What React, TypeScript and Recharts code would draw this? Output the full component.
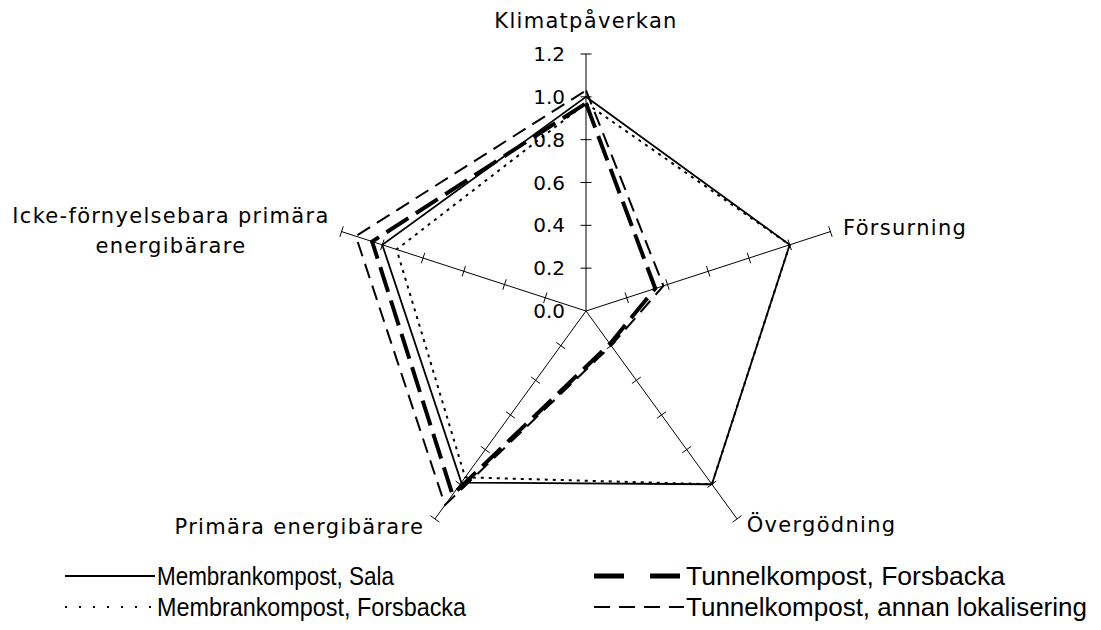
import React from 'react';
import { RadarChart, Radar, PolarAngleAxis, PolarRadiusAxis, Legend } from 'recharts';

// ---- data ----
const axisLabels = [
  'Klimatpåverkan',
  'Försurning',
  'Övergödning',
  'Primära energibärare',
  'Icke-förnyelsebara primära energibärare',
];
const salaValues = [1.0, 1.0, 1.0, 0.99, 1.0];
const membranForsbackaValues = [0.97, 1.0, 1.0, 0.96, 0.93];
const tunnelForsbackaValues = [0.97, 0.34, 0.19, 1.06, 1.05];
const tunnelAnnanValues = [1.03, 0.38, 0.2, 1.12, 1.13];
const radiusDomain = [0, 1.2];
const radiusTickCount = 7;
const seriesNames = [
  'Membrankompost, Sala',
  'Membrankompost, Forsbacka',
  'Tunnelkompost, Forsbacka',
  'Tunnelkompost, annan lokalisering',
];
const seriesKeys = ['sala', 'membranForsbacka', 'tunnelForsbacka', 'tunnelAnnan'];

const data = axisLabels.map((axis, i) => ({
  axis,
  sala: salaValues[i],
  membranForsbacka: membranForsbackaValues[i],
  tunnelForsbacka: tunnelForsbackaValues[i],
  tunnelAnnan: tunnelAnnanValues[i],
}));

// ---- styles ----
const seriesStyles = [
  { stroke: '#000', strokeWidth: 1.8, strokeDasharray: undefined },
  { stroke: '#000', strokeWidth: 2, strokeDasharray: '3 5' },
  { stroke: '#000', strokeWidth: 4, strokeDasharray: '26 9' },
  { stroke: '#000', strokeWidth: 2, strokeDasharray: '15 8' },
];
const legendSampleStyles = [
  { strokeWidth: 2, strokeDasharray: undefined },
  { strokeWidth: 2, strokeDasharray: '2 12' },
  { strokeWidth: 5, strokeDasharray: '30 26' },
  { strokeWidth: 2, strokeDasharray: '16 9' },
];
const legendTextLengths = [237, 309, 319, 401];
const spokeAngles = [90, 18, -54, -126, -198];

const labelFont = "'DejaVu Sans', Verdana, sans-serif";
const legendFont = "'Liberation Sans', Arial, sans-serif";

const angleLabelLayout = [
  { dx: 0, dy: -25.5, anchor: 'middle' },
  { dx: 5, dy: -1, anchor: 'start' },
  { dx: 5, dy: 0, anchor: 'start' },
  { dx: -6, dy: 1.6, anchor: 'end' },
  { dx: -163, dy: 0, anchor: 'middle' },
];

const AngleTick = (props: any) => {
  const { x, y, payload, index } = props;
  const lay = angleLabelLayout[index] || { dx: 0, dy: 0, anchor: 'middle' };
  const common = {
    fontFamily: labelFont,
    fontSize: 21,
    letterSpacing: 1.3,
    fill: '#000',
    textAnchor: lay.anchor as any,
    dominantBaseline: 'central' as any,
  };
  const label: string = payload.value;
  if (index === 4) {
    return (
      <g>
        <text {...common} x={x + lay.dx} y={y - 13.6}>Icke-förnyelsebara primära</text>
        <text {...common} x={x + lay.dx} y={y + 17}>energibärare</text>
      </g>
    );
  }
  return (
    <text {...common} x={x + lay.dx} y={y + lay.dy}>
      {label}
    </text>
  );
};

const makeRadiusTick = (angle: number, showLabel: boolean) => (props: any) => {
  const { x, y, payload } = props;
  const rad = (angle * Math.PI) / 180;
  const px = Math.sin(rad) * 5.5;
  const py = Math.cos(rad) * 5.5;
  const v = Number(payload.value);
  return (
    <g>
      {v > 0 && (
        <line x1={x - px} y1={y - py} x2={x + px} y2={y + py} stroke="#000" strokeWidth={1} />
      )}
      {showLabel && (
        <text
          x={x - 21}
          y={y}
          textAnchor="end"
          dominantBaseline="central"
          fontFamily={labelFont}
          fontSize={20}
          fill="#000"
        >
          {v.toFixed(1)}
        </text>
      )}
    </g>
  );
};

const LegendContent = () => {
  const cols = [57, 586];
  const rows = [15, 46];
  const order = [
    { s: 0, c: 0, r: 0 },
    { s: 1, c: 0, r: 1 },
    { s: 2, c: 1, r: 0 },
    { s: 3, c: 1, r: 1 },
  ];
  return (
    <svg width={1101} height={64} style={{ display: 'block' }}>
      {order.map(({ s, c, r }) => (
        <g key={s}>
          <line
            x1={cols[c]}
            x2={cols[c] + 90}
            y1={rows[r]}
            y2={rows[r]}
            stroke="#000"
            strokeWidth={legendSampleStyles[s].strokeWidth}
            strokeDasharray={legendSampleStyles[s].strokeDasharray}
          />
          <text
            x={cols[c] + 92}
            y={rows[r]}
            dominantBaseline="central"
            fontFamily={legendFont}
            fontSize={26}
            textLength={legendTextLengths[s]}
            lengthAdjust="spacingAndGlyphs"
            fill="#000"
          >
            {seriesNames[s]}
          </text>
        </g>
      ))}
    </svg>
  );
};

export default function App() {
  return (
    <RadarChart
      width={1101}
      height={622}
      data={data}
      cx={578}
      cy={303}
      outerRadius={257}
      startAngle={90}
      endAngle={-270}
      margin={{ top: 0, right: 0, bottom: 0, left: 0 }}
    >
      <PolarAngleAxis dataKey="axis" tick={AngleTick} axisLine={false} tickLine={false} tickSize={8} />
      {spokeAngles.map((a, i) => (
        <PolarRadiusAxis
          key={i}
          radiusAxisId={i}
          angle={a}
          type="number"
          domain={radiusDomain as any}
          allowDataOverflow={true}
          allowDecimals={true}
          tickCount={radiusTickCount}
          axisLine={{ stroke: '#000', strokeWidth: 1 }}
          tick={makeRadiusTick(a, i === 0)}
        />
      ))}
      {seriesKeys.map((k, i) => (
        <Radar
          key={k}
          name={seriesNames[i]}
          dataKey={k}
          stroke={seriesStyles[i].stroke}
          strokeWidth={seriesStyles[i].strokeWidth}
          strokeDasharray={seriesStyles[i].strokeDasharray}
          strokeLinejoin="miter"
          fill="none"
          fillOpacity={0}
          dot={false}
          isAnimationActive={false}
        />
      ))}
      <Legend
        verticalAlign="bottom"
        content={LegendContent}
        wrapperStyle={{ position: 'absolute', left: 0, top: 553, width: 1101, height: 64 }}
      />
    </RadarChart>
  );
}
